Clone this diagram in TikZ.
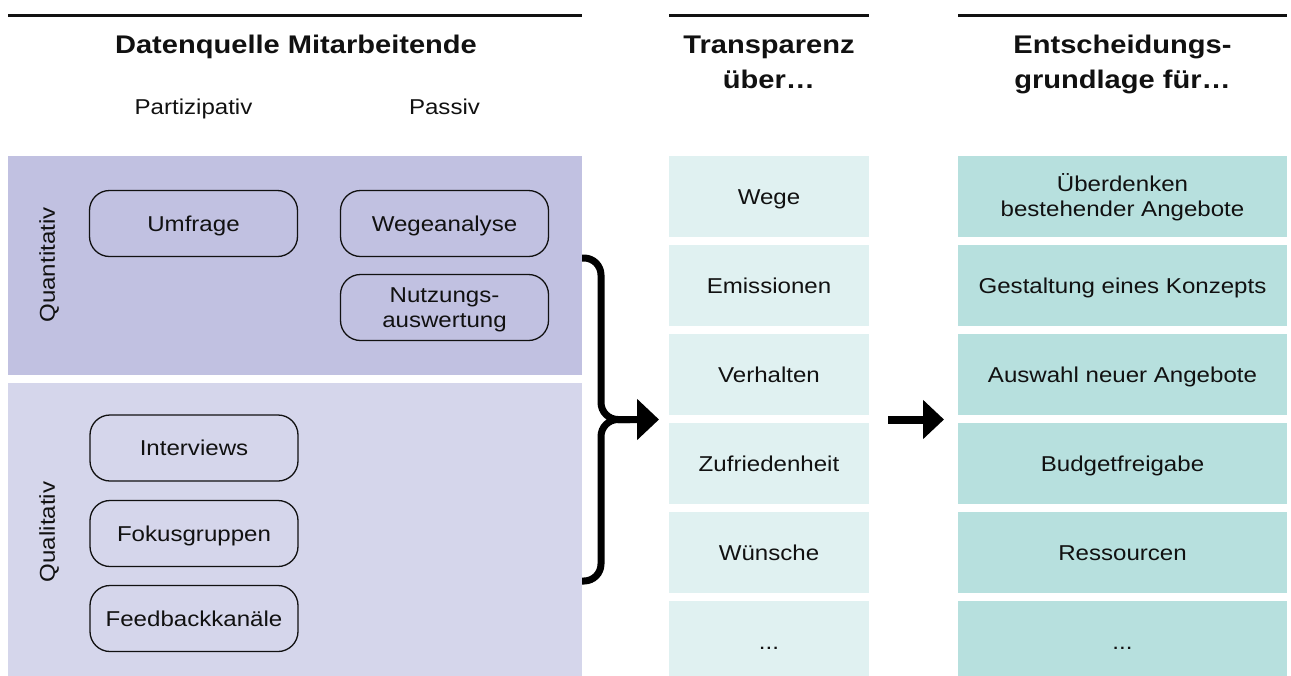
\documentclass[tikz,border=0pt]{standalone}
\usepackage{fontspec}
\setmainfont[FakeStretch=1.12, BoldFeatures={FakeStretch=1.14}]{Liberation Sans}
\usetikzlibrary{arrows.meta}
\definecolor{colQn}{RGB}{193,193,225}
\definecolor{colQl}{RGB}{213,214,235}
\definecolor{colM}{RGB}{224,241,241}
\definecolor{colR}{RGB}{183,224,222}
\definecolor{txt}{RGB}{17,17,17}
\tikzset{
  lbl/.style={font=\fontsize{21.5}{25}\selectfont, text=txt},
  hdr/.style={font=\bfseries\fontsize{25.5}{35}\selectfont, text=txt, align=center, inner sep=0pt, text depth=0pt},
  one/.style={text height=15.5pt, text depth=0pt},
  two/.style={text height=40.5pt, text depth=0pt},
  rulestroke/.style={line width=3pt, draw=txt},
  srcbox/.style={draw=txt, line width=1.3pt, rounded corners=20pt, minimum width=208pt, minimum height=66pt, inner sep=0pt, align=center, lbl},
  midrow/.style={fill=colM, minimum width=200pt, minimum height=81pt, inner sep=0pt, align=center, lbl},
  rightrow/.style={fill=colR, minimum width=329pt, minimum height=81pt, inner sep=0pt, align=center, lbl},
  bracestroke/.style={line width=7pt, draw=black, rounded corners=17pt},
}
\begin{document}
\begin{tikzpicture}[x=1pt,y=-1pt]
\useasboundingbox (0,0) rectangle (1291,675);
\clip (0,0) rectangle (1291,675);

% top rules
\coordinate (r1a) at (8,15);   \coordinate (r1b) at (582,15);
\coordinate (r2a) at (669,15); \coordinate (r2b) at (869,15);
\coordinate (r3a) at (958,15); \coordinate (r3b) at (1287,15);
\draw[rulestroke] (r1a) -- (r1b);
\draw[rulestroke] (r2a) -- (r2b);
\draw[rulestroke] (r3a) -- (r3b);

% headers
\node[hdr, anchor=north, text height=18.5pt] (h1) at (296,34.5) {Datenquelle Mitarbeitende};
\node[hdr, anchor=north, text height=53.5pt] (h2) at (769,34.5) {Transparenz\\über…};
\node[hdr, anchor=north, text height=53.5pt] (h3) at (1122.5,34.5) {Entscheidungs-\\grundlage für…};
\node[lbl, one, inner sep=0pt, anchor=north] (sub1) at (193.5,98.5) {Partizipativ};
\node[lbl, one, inner sep=0pt, anchor=north] (sub2) at (444.5,98.5) {Passiv};

% background panels
\node[fill=colQn, minimum width=574pt, minimum height=219pt, inner sep=0pt, anchor=north west] (quant) at (8,156) {};
\node[fill=colQl, minimum width=574pt, minimum height=299pt, inner sep=0pt, anchor=north west] (qual) at (8,383) {};
\node[lbl, one, inner sep=0pt, rotate=90] (lquant) at (47,265) {Quantitativ};
\node[lbl, one, inner sep=0pt, rotate=90] (lqual) at (47,532) {Qualitativ};

% source boxes
\node[srcbox, one] (umf) at (193.5,223.5) {Umfrage};
\node[srcbox, one] (weg) at (444.5,223.5) {Wegeanalyse};
\node[srcbox, two] (nutz) at (444.5,307.5) {Nutzungs-\\auswertung};
\node[srcbox, one] (intv) at (194,448) {Interviews};
\node[srcbox, one] (foku) at (194,533.5) {Fokusgruppen};
\node[srcbox, one] (feed) at (194,618.5) {Feedbackkanäle};

% middle column
\node[midrow, one] (m1) at (769,196.5) {Wege};
\node[midrow, one] (m2) at (769,285.5) {Emissionen};
\node[midrow, one] (m3) at (769,374.5) {Verhalten};
\node[midrow, one] (m4) at (769,463.5) {Zufriedenheit};
\node[midrow, one] (m5) at (769,552.5) {Wünsche};
\node[midrow, one] (m6) at (769,641.5) {...};

% right column
\node[rightrow, two] (e1) at (1122.5,196.5) {Überdenken\\bestehender Angebote};
\node[rightrow, one] (e2) at (1122.5,285.5) {Gestaltung eines Konzepts};
\node[rightrow, one] (e3) at (1122.5,374.5) {Auswahl neuer Angebote};
\node[rightrow, one] (e4) at (1122.5,463.5) {Budgetfreigabe};
\node[rightrow, one] (e5) at (1122.5,552.5) {Ressourcen};
\node[rightrow, one] (e6) at (1122.5,641.5) {...};

% brace with arrow
\coordinate (bTop) at (582,258);
\coordinate (bBot) at (582,581);
\coordinate (bMid) at (601,419.5);
\coordinate (bOut) at (630,419.5);
\coordinate (bTip) at (659,419.5);
\draw[bracestroke, -{Triangle[length=22pt,width=40pt]}] (bTop) -| (bMid) -- (bTip);
\draw[bracestroke] (bBot) -| (bMid) -- (bOut);

% middle arrow
\coordinate (mA) at (888,419.5);
\coordinate (mB) at (944,419.5);
\draw[line width=8pt, -{Triangle[length=21pt,width=38pt]}] (mA) -- (mB);
\end{tikzpicture}
\end{document}
